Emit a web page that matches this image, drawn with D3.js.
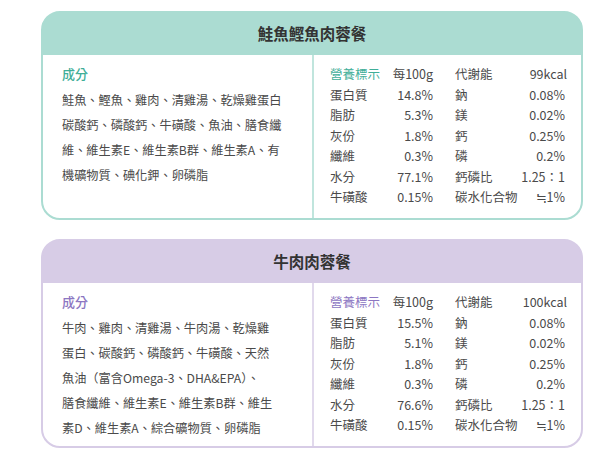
<!DOCTYPE html>
<html><head><meta charset="utf-8">
<script src="https://cdn.jsdelivr.net/npm/d3@7"></script>
<style>body{margin:0;background:#fff}</style></head>
<body><svg id="c" width="616" height="472"></svg>
<script>
const titles = ["鮭魚鰹魚肉蓉餐", "牛肉肉蓉餐"];
const ingredients = [
  ["鮭魚、鰹魚、雞肉、清雞湯、乾燥雞蛋白","碳酸鈣、磷酸鈣、牛磺酸、魚油、膳食纖","維、維生素E、維生素B群、維生素A、有","機礦物質、碘化鉀、卵磷脂"],
  ["牛肉、雞肉、清雞湯、牛肉湯、乾燥雞","蛋白、碳酸鈣、磷酸鈣、牛磺酸、天然","魚油（富含Omega-3、DHA&EPA）、","膳食纖維、維生素E、維生素B群、維生","素D、維生素A、綜合礦物質、卵磷脂"]
];
const leftLabels = ["蛋白質","脂肪","灰份","纖維","水分","牛磺酸"];
const rightLabels = ["鈉","鎂","鈣","磷","鈣磷比","碳水化合物"];
const leftValues = [["14.8%","5.3%","1.8%","0.3%","77.1%","0.15%"],["15.5%","5.1%","1.8%","0.3%","76.6%","0.15%"]];
const rightValues = [["0.08%","0.02%","0.25%","0.2%","1.25：1","≒1%"],["0.08%","0.02%","0.25%","0.2%","1.25：1","≒1%"]];
const energy = ["99kcal","100kcal"];
const themes = [{band:"#abdcd2",accent:"#3fae98"},{band:"#d7cce6",accent:"#8c76c2"}];

const svg = d3.select("#c");
const font = "'Noto Sans CJK TC','Noto Sans',sans-serif";
const tc = "#4a4a4a";
const cardY = d3.scaleOrdinal().domain([0,1]).range([12,240]);
const rowY = d3.scaleLinear().domain([0,6]).range([75,198]);
const ingY = d3.scaleLinear().domain([0,4]).range([101,201]);

titles.forEach((t,i)=>{
  const g = svg.append("g").attr("transform",`translate(0,${cardY(i)})`);
  const th = themes[i];
  const x0=42,x1=582,h=207,r=18,hb=43;
  g.append("clipPath").attr("id","cl"+i).append("rect").attr("x",x0).attr("y",0).attr("width",x1-x0).attr("height",h).attr("rx",r);
  g.append("rect").attr("x",x0).attr("y",0).attr("width",x1-x0).attr("height",h).attr("rx",r).attr("fill","#fff");
  g.append("rect").attr("x",x0).attr("y",0).attr("width",x1-x0).attr("height",hb).attr("fill",th.band).attr("clip-path",`url(#cl${i})`);
  g.append("rect").attr("x",x0).attr("y",0).attr("width",x1-x0).attr("height",h).attr("rx",r).attr("fill","none").attr("stroke",th.band).attr("stroke-width",2);
  g.append("line").attr("x1",313).attr("x2",313).attr("y1",hb).attr("y2",h).attr("stroke",th.band).attr("stroke-width",1.5);
  g.append("text").attr("x",312).attr("y",hb/2+6).attr("text-anchor","middle").attr("font-family",font).attr("font-weight",700).attr("font-size",15.5).attr("fill","#333").text(t);
  g.append("text").attr("x",62).attr("y",rowY(0)-cardY(0)+4).attr("font-family",font).attr("font-size",13).attr("font-weight",500).attr("fill",th.accent).text("成分");
  g.selectAll(".ing").data(ingredients[i]).join("text").attr("x",62).attr("y",(d,j)=>ingY(j)-12+4).attr("font-family",font).attr("font-size",12.2).attr("fill",tc).text(d=>d);
  const ty = j=>rowY(j)-12+4;
  const tx = (x,s,anchor,col)=>g.append("text").attr("x",x).attr("y",s.y).attr("text-anchor",anchor||"start").attr("font-family",font).attr("font-size",12.5).attr("fill",col||tc).text(s.t);
  tx(330,{y:ty(0),t:"營養標示"},"start",th.accent);
  tx(433,{y:ty(0),t:"每100g"},"end");
  tx(455,{y:ty(0),t:"代謝能"});
  tx(567,{y:ty(0),t:energy[i]},"end");
  leftLabels.forEach((l,j)=>{
    tx(330,{y:ty(j+1),t:l});
    tx(433,{y:ty(j+1),t:leftValues[i][j]},"end");
    tx(455,{y:ty(j+1),t:rightLabels[j]});
    tx(565,{y:ty(j+1),t:rightValues[i][j]},"end");
  });
});
</script></body></html>
